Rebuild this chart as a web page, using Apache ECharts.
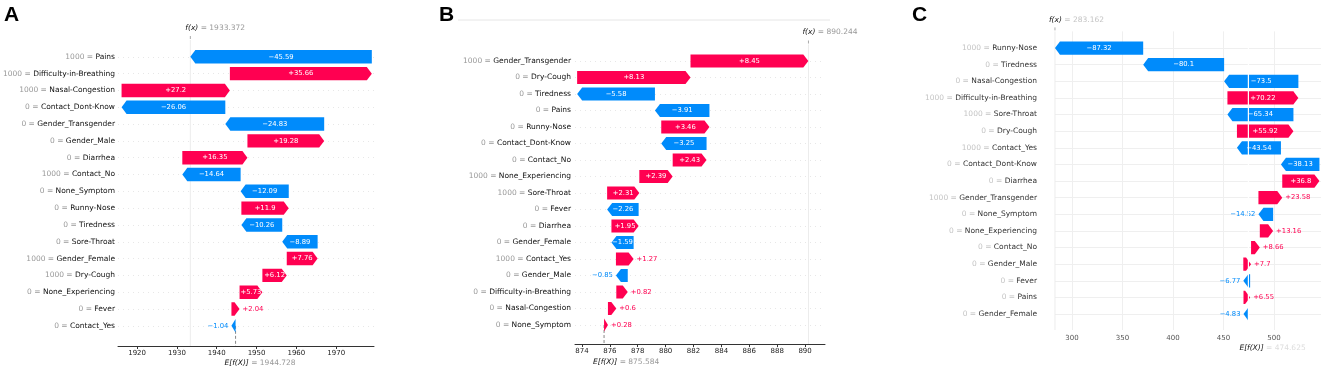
<!DOCTYPE html>
<html>
<head>
<meta charset="utf-8">
<script src="https://cdn.jsdelivr.net/npm/echarts@6.0.0/dist/echarts.min.js"></script>
<style>
  html, body { margin: 0; padding: 0; background: #fff; }
  #chart { width: 1325px; height: 371px; }
</style>
</head>
<body>
<div id="chart"></div>
<script>
// --- Panel A ---
const featA  = ['Pains', 'Difficulty-in-Breathing', 'Nasal-Congestion', 'Contact_Dont-Know', 'Gender_Transgender', 'Gender_Male', 'Diarrhea', 'Contact_No', 'None_Symptom', 'Runny-Nose', 'Tiredness', 'Sore-Throat', 'Gender_Female', 'Dry-Cough', 'None_Experiencing', 'Fever', 'Contact_Yes'];
const inputA = ['1000', '1000', '1000', '0', '0', '0', '0', '1000', '0', '0', '0', '0', '1000', '1000', '0', '0', '0'];
const shapA  = [-45.59, 35.66, 27.2, -26.06, -24.83, 19.28, 16.35, -14.64, -12.09, 11.9, -10.26, -8.89, 7.76, 6.12, 5.73, 2.04, -1.04];
const fxA = 1933.372, baseA = 1944.728;
const ticksA = [1920, 1930, 1940, 1950, 1960, 1970];

// --- Panel B ---
const featB  = ['Gender_Transgender', 'Dry-Cough', 'Tiredness', 'Pains', 'Runny-Nose', 'Contact_Dont-Know', 'Contact_No', 'None_Experiencing', 'Sore-Throat', 'Fever', 'Diarrhea', 'Gender_Female', 'Contact_Yes', 'Gender_Male', 'Difficulty-in-Breathing', 'Nasal-Congestion', 'None_Symptom'];
const inputB = ['1000', '0', '0', '0', '0', '0', '0', '1000', '1000', '0', '0', '0', '1000', '0', '0', '0', '0'];
const shapB  = [8.45, 8.13, -5.58, -3.91, 3.46, -3.25, 2.43, 2.39, 2.31, -2.26, 1.95, -1.59, 1.27, -0.85, 0.82, 0.6, 0.28];
const fxB = 890.244, baseB = 875.584;
const ticksB = [874, 876, 878, 880, 882, 884, 886, 888, 890];

// --- Panel C ---
const featC  = ['Runny-Nose', 'Tiredness', 'Nasal-Congestion', 'Difficulty-in-Breathing', 'Sore-Throat', 'Dry-Cough', 'Contact_Yes', 'Contact_Dont-Know', 'Diarrhea', 'Gender_Transgender', 'None_Symptom', 'None_Experiencing', 'Contact_No', 'Gender_Male', 'Fever', 'Pains', 'Gender_Female'];
const inputC = ['1000', '0', '0', '1000', '1000', '0', '1000', '0', '0', '1000', '0', '0', '0', '0', '0', '0', '0'];
const shapC  = [-87.32, -80.1, -73.5, 70.22, -65.34, 55.92, -43.54, -38.13, 36.8, 23.58, -14.52, 13.16, 8.66, 7.7, -6.77, 6.55, -4.83];
const fxC = 283.162, baseC = 474.625;
const ticksC = [300, 350, 400, 450, 500];

const RED = '#ff0051', BLUE = '#008bfb';
const FONT = 'DejaVu Sans';

function fmt(v) {
    return (v >= 0 ? '+' : '\u2212') + Math.abs(v);
}

// bars stack up from the base value at the bottom row
function waterfall(shap, base) {
    const out = [];
    let cur = base;
    for (let i = shap.length - 1; i >= 0; i--) {
        out.unshift([cur, cur + shap[i], i, shap[i]]);
        cur += shap[i];
    }
    return out;
}

function renderBar(params, api) {
    const s = api.value(0), e = api.value(1), row = api.value(2), v = api.value(3);
    const a = api.coord([s, row]), b = api.coord([e, row]);
    const h = api.size([0, 1])[1] * 0.8;
    const w = Math.abs(b[0] - a[0]);
    const dir = v >= 0 ? 1 : -1;
    const head = Math.min(5, w);
    const neck = b[0] - dir * head;
    const cy = a[1];
    const color = v >= 0 ? RED : BLUE;
    const txt = fmt(v);
    const inside = w > txt.length * 4;
    return {
        type: 'group',
        children: [
            {
                type: 'polygon',
                shape: { points: [[a[0], cy - h / 2], [neck, cy - h / 2], [b[0], cy], [neck, cy + h / 2], [a[0], cy + h / 2]] },
                style: { fill: color }
            },
            {
                type: 'text',
                style: {
                    text: txt,
                    x: inside ? (a[0] + b[0]) / 2 : b[0] + dir * 3,
                    y: cy,
                    align: inside ? 'center' : (dir > 0 ? 'left' : 'right'),
                    verticalAlign: 'middle',
                    fill: inside ? '#fff' : color,
                    fontSize: 6.8,
                    fontFamily: FONT
                }
            }
        ]
    };
}

function makeAnnot(cfg) {
    return function (params, api) {
        const cs = params.coordSys;
        const top = cs.y, bot = cs.y + cs.height;
        const xf = api.coord([api.value(0), 0])[0];
        const xe = api.coord([api.value(1), 0])[0];
        const lastY = api.coord([api.value(1), api.value(2)])[1];
        const kids = [];
        if (cfg.fxLine) {
            kids.push({ type: 'line', shape: { x1: xf, y1: top, x2: xf, y2: bot }, style: { stroke: cfg.fxLine, lineWidth: 1 } });
        }
        kids.push({ type: 'line', shape: { x1: xf, y1: top - 4, x2: xf, y2: top - 1 }, style: { stroke: '#aaa', lineWidth: 1 } });
        if (cfg.eLine) {
            kids.push({ type: 'line', shape: { x1: xe, y1: lastY, x2: xe, y2: bot }, style: { stroke: cfg.eLine, lineWidth: 1, lineDash: [3, 2] } });
        }
        kids.push({
            type: 'text',
            style: {
                text: '{i|f(x)}{g| = ' + api.value(0).toFixed(3) + '}',
                x: xf - cfg.fxShift, y: top - cfg.fxGap, align: 'left', verticalAlign: 'middle',
                rich: {
                    i: { fill: '#111', fontStyle: 'italic', fontSize: 7.5, fontFamily: FONT },
                    g: { fill: cfg.gray, fontSize: 7.5, fontFamily: FONT }
                }
            }
        });
        kids.push({
            type: 'text',
            style: {
                text: '{i|E[f(X)]}{g| = ' + api.value(1).toFixed(3) + '}',
                x: xe - cfg.eShift, y: bot + cfg.eGap, align: 'left', verticalAlign: 'middle',
                rich: {
                    i: { fill: '#111', fontStyle: 'italic', fontSize: 7.5, fontFamily: FONT },
                    g: { fill: cfg.eGray, fontSize: 7.5, fontFamily: FONT }
                }
            }
        });
        return { type: 'group', children: kids };
    };
}

function renderWhiteLine(params, api) {
    const cs = params.coordSys;
    const x = api.coord([api.value(0), 0])[0];
    return { type: 'line', shape: { x1: x, y1: cs.y, x2: x, y2: cs.y + cs.height }, style: { stroke: '#fff', lineWidth: 1.2 } };
}

const rows = featA.map((d, i) => i);

function yAxisFor(gi, feat, inputs, max, valColor, nameColor, margin, split) {
    return {
        gridIndex: gi, type: 'value', inverse: true, min: -1, max: max,
        axisLine: { show: false },
        axisTick: { show: false, customValues: rows },
        splitLine: split,
        axisLabel: {
            customValues: rows, margin: margin,
            formatter: (v) => '{v|' + inputs[v] + ' = }{n|' + feat[v] + '}',
            rich: {
                v: { color: valColor, fontSize: 7.5, fontFamily: FONT },
                n: { color: nameColor, fontSize: 7.5, fontFamily: FONT }
            }
        }
    };
}

function xAxisFor(gi, min, max, ticks, showLine, split) {
    return {
        gridIndex: gi, type: 'value', min: min, max: max,
        axisLine: { show: showLine, onZero: false, lineStyle: { color: '#333', width: 1 } },
        axisTick: { show: showLine, customValues: ticks, length: 3, lineStyle: { color: '#333' } },
        axisLabel: {
            customValues: ticks, fontSize: 7, color: showLine ? '#222' : '#555',
            margin: showLine ? 4 : 5, fontFamily: FONT,
            formatter: (v) => String(v)
        },
        splitLine: split
    };
}

const dotted = { show: true, lineStyle: { color: '#d6d6d6', width: 0.6, type: [1, 4] } };
const faint = { show: true, lineStyle: { color: '#efefef', width: 1 } };

const chart = echarts.init(document.getElementById('chart'));

chart.setOption({
    animation: false,
    backgroundColor: '#fff',
    grid: [
        { left: 118, top: 40, width: 256, height: 306 },
        { left: 575, top: 44.5, width: 250, height: 299.5 },
        { left: 1055, top: 31.4, width: 266, height: 298.6 }
    ],
    xAxis: [
        xAxisFor(0, 1915.2, 1979.5, ticksA, true, { show: false }),
        xAxisFor(1, 873.5, 891.43, ticksB, true, { show: false }),
        xAxisFor(2, 283.2, 546.5, ticksC, false, faint)
    ],
    yAxis: [
        yAxisFor(0, featA, inputA, 17.2, '#999', '#111', 3, dotted),
        yAxisFor(1, featB, inputB, 17.15, '#999', '#111', 4, dotted),
        yAxisFor(2, featC, inputC, 16.96, '#c4c4c4', '#333', 18, faint)
    ],
    graphic: [
        { type: 'text', left: 4, top: 5, style: { text: 'A', font: 'bold 21px "Liberation Sans"', fill: '#000' } },
        { type: 'text', left: 439, top: 5, style: { text: 'B', font: 'bold 21px "Liberation Sans"', fill: '#000' } },
        { type: 'text', left: 912, top: 5, style: { text: 'C', font: 'bold 21px "Liberation Sans"', fill: '#000' } },
        { type: 'line', shape: { x1: 458, y1: 20, x2: 830, y2: 20 }, style: { stroke: '#e6e6e6', lineWidth: 1 } }
    ],
    series: [
        { type: 'custom', xAxisIndex: 0, yAxisIndex: 0, z: 1, renderItem: makeAnnot({ fxLine: '#ececec', eLine: '#888', gray: '#999', eGray: '#999', fxShift: 5, fxGap: 12, eShift: 11, eGap: 17 }), data: [[fxA, baseA, featA.length - 1]] },
        { type: 'custom', xAxisIndex: 0, yAxisIndex: 0, z: 2, renderItem: renderBar, data: waterfall(shapA, baseA) },

        { type: 'custom', xAxisIndex: 1, yAxisIndex: 1, z: 1, renderItem: makeAnnot({ fxLine: '#ececec', eLine: '#888', gray: '#999', eGray: '#999', fxShift: 6, fxGap: 12.5, eShift: 11, eGap: 18 }), data: [[fxB, baseB, featB.length - 1]] },
        { type: 'custom', xAxisIndex: 1, yAxisIndex: 1, z: 2, renderItem: renderBar, data: waterfall(shapB, baseB) },

        { type: 'custom', xAxisIndex: 2, yAxisIndex: 2, z: 1, renderItem: makeAnnot({ fxLine: '#ececec', eLine: null, gray: '#c4c4c4', eGray: '#dddddd', fxShift: 6, fxGap: 11, eShift: 9, eGap: 18 }), data: [[fxC, baseC, featC.length - 1]] },
        { type: 'custom', xAxisIndex: 2, yAxisIndex: 2, z: 2, renderItem: renderBar, data: waterfall(shapC, baseC) },
        { type: 'custom', xAxisIndex: 2, yAxisIndex: 2, z: 3, renderItem: renderWhiteLine, data: [[baseC]] }
    ]
});
</script>
</body>
</html>
